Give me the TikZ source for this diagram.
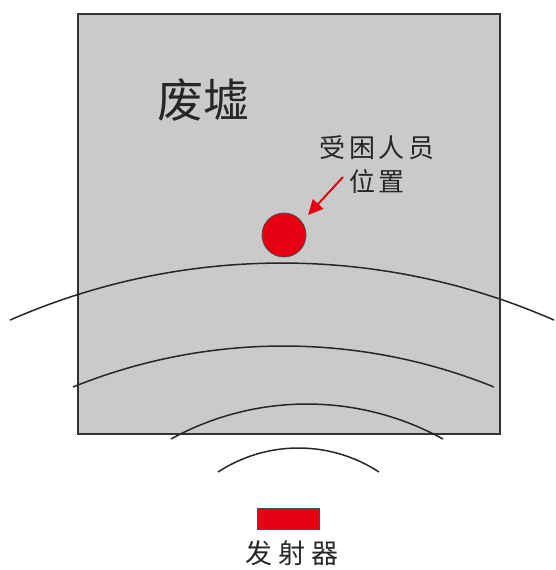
\documentclass[tikz,border=0pt]{standalone}
\usepackage{fontspec}
\newfontfamily\cjk{Noto Sans CJK SC}
\usetikzlibrary{arrows.meta}
\definecolor{ruin}{HTML}{C9CACA}
\definecolor{sigred}{HTML}{E60012}
\tikzset{
  wave/.style={line width=1.5pt, draw=black!85},
  lbl/.style={font=\cjk, text=black!85, inner sep=0pt, align=center},
}
\begin{document}
\begin{tikzpicture}[x=1pt,y=-1pt]
\useasboundingbox (0,0) rectangle (555,570);
% ruins area
\node[draw=black!80, line width=1.4pt, fill=ruin, minimum width=422pt, minimum height=420pt, inner sep=0pt] (ruin) at (289,224) {};
\node[lbl, font=\cjk\fontsize{46}{46}\selectfont] (ruinlbl) at (203,100) {废墟};
% trapped person
\node[circle, draw=black!70, line width=0.8pt, fill=sigred, minimum size=44pt, inner sep=0pt] (person) at (284,235) {};
\node[lbl, font=\cjk\fontsize{26}{34}\selectfont\addfontfeature{LetterSpace=14}] (loc) at (377,165) {受困人员\\位置};
\coordinate (arrstart) at (343,177);
\coordinate (arrtip) at (308,215);
\draw[draw=sigred, line width=2pt, -{Triangle[length=15pt,width=14pt]}] (arrstart) -- (arrtip);
% waves
\draw[wave] (282,940) ++(-113.69:677) arc[start angle=-113.69, end angle=-66.31, radius=677];
\draw[wave] (283.5,906.9) ++(-112.04:560.9) arc[start angle=-112.04, end angle=-67.96, radius=560.9];
\draw[wave] (307,685.7) ++(-118.87:281.7) arc[start angle=-118.87, end angle=-61.13, radius=281.7];
\draw[wave] (298.5,595) ++(-123.2:147) arc[start angle=-123.2, end angle=-56.8, radius=147];
% transmitter
\node[draw=black!70, line width=0.8pt, fill=sigred, minimum width=62pt, minimum height=21pt, inner sep=0pt] (tx) at (288,518.5) {};
\node[lbl, font=\cjk\fontsize{27}{27}\selectfont\addfontfeature{LetterSpace=22}] (txlbl) at (292,553) {发射器};
\end{tikzpicture}
\end{document}
